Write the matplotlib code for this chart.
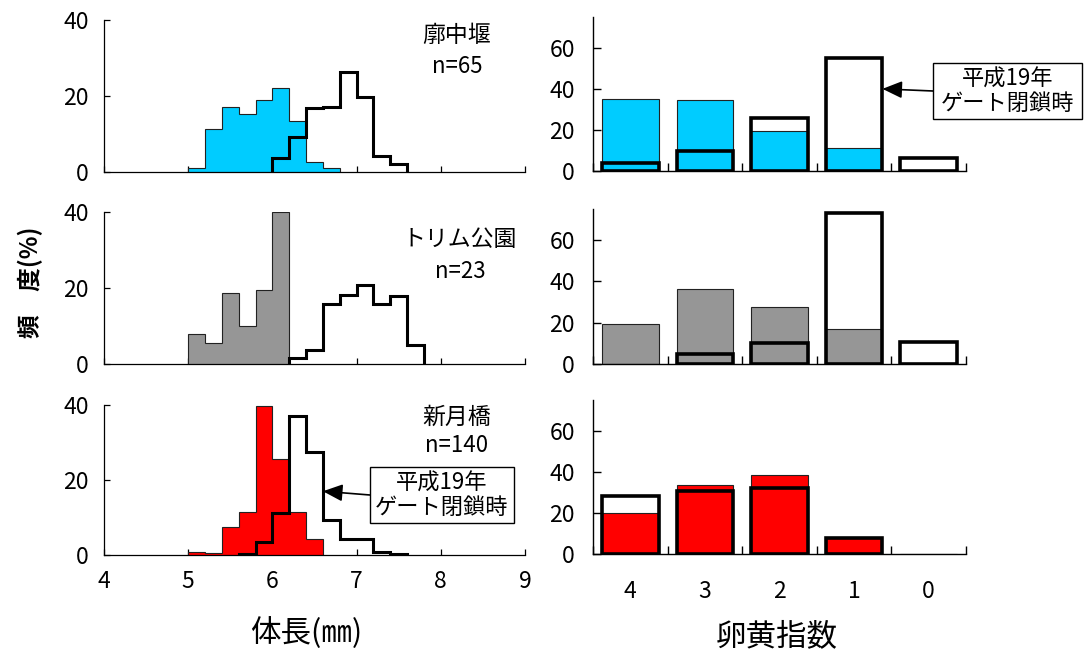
import numpy as np
import matplotlib
matplotlib.use("Agg")
import matplotlib.pyplot as plt
from matplotlib.patches import Rectangle

plt.rcParams['font.family'] = ['Noto Sans CJK JP', 'DejaVu Sans']

# ---- body-length histograms (%), 0.2 mm bins ----
bin_w = 0.2
site_names = ["廓中堰", "トリム公園", "新月橋"]
site_n = ["n=65", "n=23", "n=140"]
site_colors = ["#00CCFF", "#969696", "#FF0000"]

len_start_now = [5.0, 5.0, 5.0]
len_now_kakuchu = [1.0, 11.3, 17.2, 15.2, 18.9, 22.0, 13.4, 2.7, 1.0]
len_now_trim = [7.9, 5.3, 18.7, 9.9, 19.3, 40.0]
len_now_shingetsu = [0.9, 0.5, 7.6, 11.4, 39.7, 25.5, 11.6, 4.4]

len_start_2007 = [6.0, 6.2, 5.6]
len_2007_kakuchu = [3.8, 9.1, 16.8, 17.0, 26.3, 19.7, 4.3, 2.0]
len_2007_trim = [1.4, 3.6, 15.7, 18.2, 20.7, 15.8, 17.8, 4.9]
len_2007_shingetsu = [0.4, 3.6, 11.1, 37.1, 27.6, 9.3, 4.3, 4.3, 0.9, 0.3]

# ---- yolk index (%) ----
yolk_labels = ["4", "3", "2", "1", "0"]
yolk_now_kakuchu = [35.0, 34.5, 19.4, 11.1, 0.0]
yolk_now_trim = [19.2, 36.1, 27.4, 16.8, 0.0]
yolk_now_shingetsu = [20.0, 33.5, 38.7, 7.8, 0.0]
yolk_2007_kakuchu = [3.7, 9.8, 26.0, 55.0, 6.5]
yolk_2007_trim = [0.0, 4.8, 10.0, 73.3, 10.8]
yolk_2007_shingetsu = [28.1, 30.7, 32.2, 7.8, 0.0]

len_now = [len_now_kakuchu, len_now_trim, len_now_shingetsu]
len_2007 = [len_2007_kakuchu, len_2007_trim, len_2007_shingetsu]
yolk_now = [yolk_now_kakuchu, yolk_now_trim, yolk_now_shingetsu]
yolk_2007 = [yolk_2007_kakuchu, yolk_2007_trim, yolk_2007_shingetsu]

W, H = 1085, 657
fig = plt.figure(figsize=(W / 100, H / 100), dpi=100)


def fx(px):
    return px / W


def fy(py):
    return 1 - py / H


def box(x0, x1, y_top, y_bot):
    return [fx(x0), fy(y_bot), fx(x1) - fx(x0), fy(y_top) - fy(y_bot)]


left_rows = [(20, 172), (212, 363.5), (405, 555)]
right_rows = [(17, 171), (209, 364), (400, 554.3)]
name_pos = [(0.838, 0.90, 0.697), (0.846, 0.82, 0.605), (0.838, 0.92, 0.727)]
tick_size = 16.5

axL, axR = [], []
for i in range(3):
    # histogram panel
    ax = fig.add_axes(box(104, 525, *left_rows[i]))
    axL.append(ax)
    e_now = len_start_now[i] + bin_w * np.arange(len(len_now[i]) + 1)
    e_old = len_start_2007[i] + bin_w * np.arange(len(len_2007[i]) + 1)
    ax.stairs(len_now[i], e_now, fill=True, facecolor=site_colors[i],
              edgecolor="#222222", linewidth=0.8, zorder=2)
    ax.stairs(len_2007[i], e_old, baseline=0, fill=False, color="black",
              linewidth=2.2, zorder=3)
    ax.set_xlim(4, 9)
    ax.set_ylim(0, 40)
    ax.set_xticks(np.arange(4, 10))
    ax.set_yticks([0, 20, 40])
    for s in ("top", "right"):
        ax.spines[s].set_visible(False)
    for s in ("left", "bottom"):
        ax.spines[s].set_linewidth(0.9)
    ax.tick_params(axis="both", direction="in", length=4, width=0.9,
                   labelsize=tick_size)
    ax.tick_params(axis="y", pad=11)
    ax.tick_params(axis="x", pad=11)
    if i < 2:
        ax.tick_params(axis="x", labelbottom=False)
    tx, ty1, ty2 = name_pos[i]
    ax.text(tx, ty1, site_names[i], transform=ax.transAxes, ha="center",
            va="center", fontsize=16.5)
    ax.text(tx, ty2, site_n[i], transform=ax.transAxes, ha="center",
            va="center", fontsize=16)

    # yolk index panel
    axr = fig.add_axes(box(593, 966, *right_rows[i]))
    axR.append(axr)
    x = np.arange(len(yolk_labels))
    axr.bar(x, yolk_now[i], width=0.76, color=site_colors[i],
            edgecolor="#222222", linewidth=0.8, zorder=2)
    old = np.array(yolk_2007[i])
    keep = old > 0
    axr.bar(x[keep], old[keep], width=0.76, facecolor="none",
            edgecolor="black", linewidth=2.6, zorder=3)
    axr.set_xlim(-0.5, 4.5)
    axr.set_ylim(0, 75)
    axr.set_yticks([0, 20, 40, 60])
    axr.set_xticks(x)
    axr.set_xticks(np.arange(-0.5, 5.0, 1.0), minor=True)
    for s in ("top", "right"):
        axr.spines[s].set_visible(False)
    for s in ("left", "bottom"):
        axr.spines[s].set_linewidth(1.0)
    axr.tick_params(axis="y", direction="in", length=6, width=1.0,
                    labelsize=tick_size, pad=13)
    axr.tick_params(axis="x", which="major", length=0, labelsize=tick_size,
                    pad=18.5)
    axr.tick_params(axis="x", which="minor", direction="in", length=6,
                    width=1.0)
    if i < 2:
        axr.tick_params(axis="x", labelbottom=False)
    else:
        axr.set_xticklabels(yolk_labels)

# notes for the 2007 gate closure
note = "平成19年\nゲート閉鎖時"
arrow = dict(arrowstyle="-|>,head_length=0.8,head_width=0.35",
             mutation_scale=15, color="black", lw=1.2, shrinkA=0, shrinkB=0)

for (x0, x1, yt, yb), ax, xy in [
        ((933, 1082, 63, 119), axR[0], (3 + 0.38, 40)),
        ((370, 514, 467, 523), axL[2], (6.6, 17))]:
    fig.add_artist(Rectangle((fx(x0), fy(yb)), fx(x1) - fx(x0),
                             fy(yt) - fy(yb), transform=fig.transFigure,
                             facecolor="white", edgecolor="black",
                             linewidth=1.0, zorder=5))
    fig.text(fx((x0 + x1) / 2), fy((yt + yb) / 2), note, ha="center",
             va="center", fontsize=16, linespacing=1.08, zorder=6)
    ax.annotate("", xy=xy, xycoords="data",
                xytext=(fx(x0), fy((yt + yb) / 2)),
                textcoords="figure fraction", arrowprops=arrow,
                annotation_clip=False, zorder=6)

fig.text(fx(30), fy(282), "頻\u3000度(%)", rotation=90, ha="center",
         va="center", fontsize=17, fontweight="bold")
fig.text(fx(306), fy(633), "体長(㎜)", ha="center", va="center", fontsize=22)
fig.text(fx(777), fy(637), "卵黄指数", ha="center", va="center", fontsize=22)

fig.savefig("out.png", dpi=100, facecolor="white")
